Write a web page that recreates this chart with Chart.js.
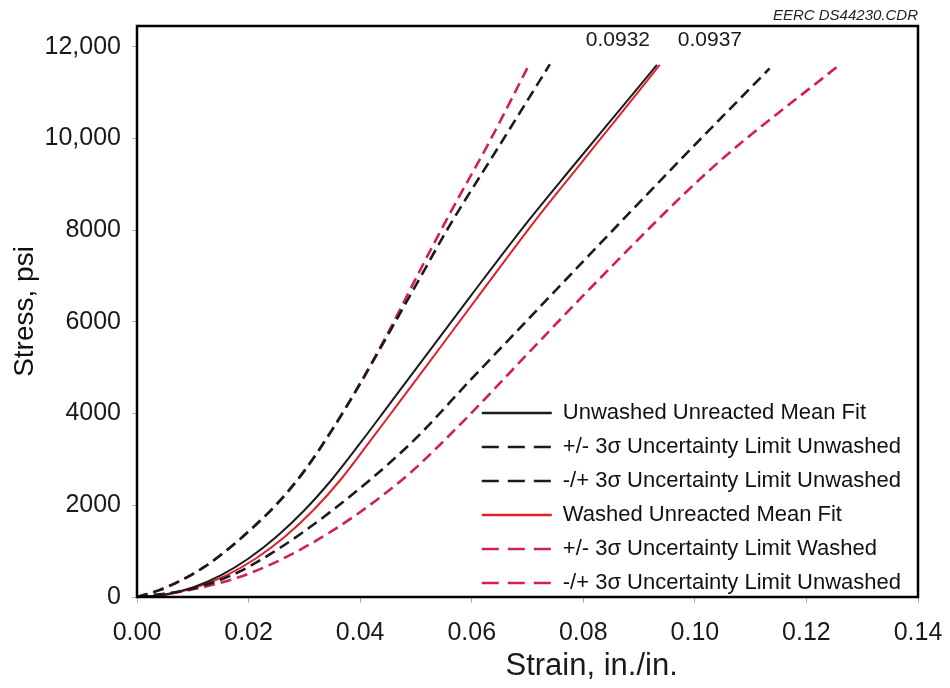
<!DOCTYPE html>
<html>
<head>
<meta charset="utf-8">
<script src="https://cdn.jsdelivr.net/npm/chart.js@4.4.1/dist/chart.umd.min.js"></script>
<style>
html,body{margin:0;padding:0;background:#ffffff;}
#wrap{width:950px;height:688px;}
</style>
</head>
<body>
<div id="wrap"><canvas id="c" width="950" height="688"></canvas></div>
<script>
const FONT = "'Liberation Sans', Arial, Helvetica, sans-serif";

// ---- data ----
const seriesLabels = [
  'Unwashed Unreacted Mean Fit',
  '+/- 3\u03c3 Uncertainty Limit Unwashed',
  '-/+ 3\u03c3 Uncertainty Limit Unwashed',
  'Washed Unreacted Mean Fit',
  '+/- 3\u03c3 Uncertainty Limit Washed',
  '-/+ 3\u03c3 Uncertainty Limit Unwashed'
];

const unwashedMeanStrain = [0, 0.005, 0.010, 0.015, 0.020, 0.025, 0.030, 0.035, 0.040, 0.045, 0.050, 0.060, 0.070, 0.078, 0.085, 0.0932];
const unwashedMeanStress = [0, 53, 210, 473, 840, 1313, 1890, 2573, 3353, 4163, 4973, 6593, 8180, 9370, 10400, 11600];

const unwashedUpperStrain = [0, 0.004, 0.008, 0.012, 0.0167, 0.021, 0.0251, 0.030, 0.035, 0.040, 0.045, 0.050, 0.056, 0.065, 0.074];
const unwashedUpperStress = [0, 150, 370, 650, 1080, 1540, 2030, 2750, 3650, 4650, 5720, 6800, 8090, 9850, 11612];

const unwashedLowerStrain = [0, 0.008, 0.0167, 0.0238, 0.0346, 0.0489, 0.060, 0.070, 0.080, 0.0973, 0.1134];
const unwashedLowerStress = [0, 130, 460, 930, 1850, 3330, 4760, 6040, 7320, 9520, 11525];

const washedMeanStrain = [0, 0.005, 0.010, 0.0160, 0.0213, 0.0265, 0.0316, 0.0366, 0.0415, 0.0465, 0.0515, 0.0614, 0.0712, 0.0790, 0.0858, 0.0937];
const washedMeanStress = [0, 45, 190, 473, 840, 1313, 1890, 2573, 3353, 4163, 4973, 6593, 8180, 9370, 10400, 11600];

const washedUpperStrain = [0, 0.004, 0.008, 0.012, 0.0167, 0.021, 0.0251, 0.030, 0.035, 0.040, 0.045, 0.050, 0.0561, 0.0633, 0.0704];
const washedUpperStress = [0, 150, 370, 650, 1080, 1540, 2030, 2750, 3650, 4660, 5760, 6950, 8366, 9956, 11634];

const washedLowerStrain = [0, 0.008, 0.0167, 0.0238, 0.0310, 0.0394, 0.0489, 0.0584, 0.0700, 0.0830, 0.1032, 0.1260];
const washedLowerStress = [0, 120, 370, 700, 1150, 1800, 2700, 3820, 5300, 6950, 9368, 11612];

const xTickValues = [0, 0.02, 0.04, 0.06, 0.08, 0.10, 0.12, 0.14];
const xTickLabels = ['0.00', '0.02', '0.04', '0.06', '0.08', '0.10', '0.12', '0.14'];
const yTickValues = [0, 2000, 4000, 6000, 8000, 10000, 12000];
const yTickLabels = ['0', '2000', '4000', '6000', '8000', '10,000', '12,000'];

const endStrainLabels = ['0.0932', '0.0937'];
const endStrainLabelX = [0.0862, 0.1027];
const endStrainLabelY = [12130, 12130];

const xAxisTitle = 'Strain, in./in.';
const xAxisTitleAt = 0.0815;
const yAxisTitle = 'Stress, psi';
const figureId = 'EERC DS44230.CDR';

// ---- helpers ----
function pts(xs, ys) { return xs.map((v, i) => ({x: v, y: ys[i]})); }

const BLACK = '#1b1b1b';
const RED_SOLID = '#e0202c';
const RED_DASH = '#d4204c';
const DASH = [11, 6];
const LEGEND_DASH = [17, 9];

function ds(i, xs, ys, color, dashed) {
  return {
    label: seriesLabels[i],
    data: pts(xs, ys),
    borderColor: color,
    backgroundColor: color,
    borderWidth: dashed ? 2.6 : 2,
    borderDash: dashed ? DASH : [],
    pointRadius: 0,
    cubicInterpolationMode: 'monotone',
    fill: false
  };
}

const framePlugin = {
  id: 'frame',
  afterDraw(chart) {
    const {ctx, chartArea: a} = chart;
    ctx.save();
    ctx.strokeStyle = '#000';
    ctx.lineWidth = 2.5;
    ctx.strokeRect(a.left, a.top, a.right - a.left, a.bottom - a.top);
    ctx.restore();
  }
};

const textPlugin = {
  id: 'texts',
  afterDraw(chart) {
    const {ctx} = chart;
    const xs = chart.scales.x, ys = chart.scales.y;
    ctx.save();
    ctx.fillStyle = '#1a1a1a';
    ctx.textAlign = 'center';
    ctx.textBaseline = 'middle';
    ctx.font = '21px ' + FONT;
    endStrainLabels.forEach((t, i) => {
      ctx.fillText(t, xs.getPixelForValue(endStrainLabelX[i]), ys.getPixelForValue(endStrainLabelY[i]));
    });
    ctx.font = '31px ' + FONT;
    ctx.fillText(xAxisTitle, xs.getPixelForValue(xAxisTitleAt), chart.height - 22);
    ctx.restore();
  }
};

const legendPlace = {
  id: 'legendPlace',
  afterLayout(chart) {
    const lg = chart.legend;
    if (!lg || !lg.columnSizes || !lg.columnSizes.length) return;
    const pad = lg.options.labels.padding;
    const w = lg.columnSizes[0].width;
    lg.left = chart.chartArea.right - w - 17 - pad;
    lg.bottom = chart.chartArea.bottom + 9;
  }
};

new Chart(document.getElementById('c'), {
  type: 'line',
  data: {
    datasets: [
      ds(0, unwashedMeanStrain, unwashedMeanStress, BLACK, false),
      ds(1, unwashedUpperStrain, unwashedUpperStress, BLACK, true),
      ds(2, unwashedLowerStrain, unwashedLowerStress, BLACK, true),
      ds(3, washedMeanStrain, washedMeanStress, RED_SOLID, false),
      ds(4, washedUpperStrain, washedUpperStress, RED_DASH, true),
      ds(5, washedLowerStrain, washedLowerStress, RED_DASH, true)
    ]
  },
  options: {
    responsive: false,
    animation: false,
    devicePixelRatio: 1,
    layout: {padding: {left: 0, right: 32, top: 0, bottom: 0}},
    plugins: {
      title: {
        display: true,
        text: figureId,
        align: 'end',
        color: '#222',
        font: {family: FONT, size: 15, style: 'italic', weight: 'normal'},
        padding: {top: 3, bottom: 1}
      },
      legend: {
        position: 'chartArea',
        align: 'end',
        labels: {
          usePointStyle: true,
          pointStyle: 'line',
          pointStyleWidth: 70,
          boxHeight: 10,
          padding: 12,
          color: '#111',
          font: {family: FONT, size: 22},
          generateLabels(chart) {
            const items = Chart.defaults.plugins.legend.labels.generateLabels(chart);
            return items.map(it => {
              const d = chart.data.datasets[it.datasetIndex];
              it.pointStyle = 'line';
              it.lineWidth = 2.4;
              it.strokeStyle = d.borderColor;
              it.lineDash = (d.borderDash && d.borderDash.length) ? LEGEND_DASH : [];
              return it;
            });
          }
        }
      },
      tooltip: {enabled: false}
    },
    scales: {
      x: {
        type: 'linear',
        min: 0,
        max: 0.14,
        afterBuildTicks: s => { s.ticks = xTickValues.map(v => ({value: v})); },
        afterFit: s => { s.height = 91; s.paddingRight = 0; s.paddingLeft = 0; },
        ticks: {
          callback: (v, i) => xTickLabels[i],
          autoSkip: false,
          maxRotation: 0,
          color: '#1a1a1a',
          font: {family: FONT, size: 25},
          padding: 15
        },
        grid: {drawOnChartArea: false, drawTicks: true, tickLength: 6, color: '#b0b0b0'},
        border: {display: false}
      },
      y: {
        type: 'linear',
        min: 0,
        max: 12450,
        afterBuildTicks: s => { s.ticks = yTickValues.map(v => ({value: v})); },
        afterFit: s => { s.width = 137; },
        ticks: {
          callback: (v, i) => yTickLabels[i],
          autoSkip: false,
          color: '#1a1a1a',
          font: {family: FONT, size: 25},
          padding: 11
        },
        grid: {drawOnChartArea: false, drawTicks: true, tickLength: 5, color: '#b0b0b0'},
        border: {display: false},
        title: {
          display: true,
          text: yAxisTitle,
          color: '#111',
          font: {family: FONT, size: 28},
          padding: {top: 8, bottom: 0}
        }
      }
    }
  },
  plugins: [framePlugin, textPlugin, legendPlace]
});
</script>
</body>
</html>
